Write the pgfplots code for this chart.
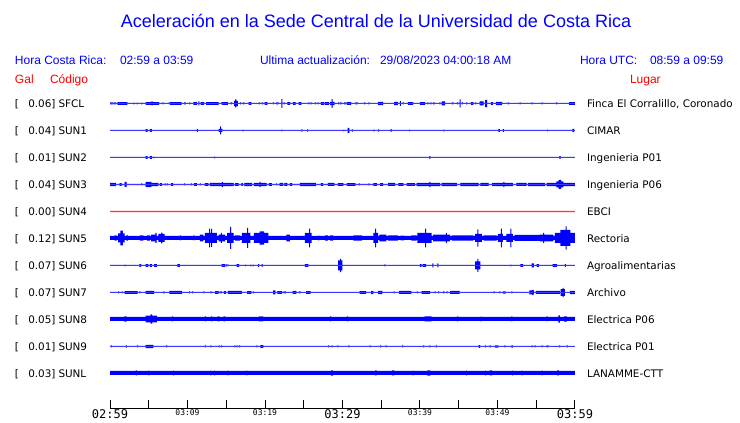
\documentclass[border=0pt]{standalone}
\usepackage{pgfplots}
\pgfplotsset{compat=1.18}
\usepackage{pgfplotstable}
\usepackage{fontspec}
\setmainfont{Liberation Sans}
\newfontfamily\dv{DejaVu Sans}
\newfontfamily\dvm{DejaVu Sans Mono}
\definecolor{tb}{RGB}{0,0,255}
\definecolor{tr}{RGB}{255,0,0}

% columns: t = minutes after 02:59, a = half height of the trace envelope (px)
\pgfplotstableread{
t a
0 1
0.4 0.5
0.5 1
0.75 0.5
0.95 1.3
2.25 0.5
3.0 0.9
3.13 0.5
3.45 0.9
3.58 0.5
4.0 0.9
4.13 0.5
4.6 1.3
5.35 2
5.5 1.3
6.35 0.5
6.75 1
6.88 0.5
7.55 1
7.68 0.5
7.75 1.3
9.25 0.5
9.55 1
9.8 0.5
10.2 1
10.33 0.5
10.75 1.3
11.2 0.5
11.4 2
11.53 0.5
11.7 1.3
12.15 0.5
12.4 1.3
14.0 0.5
14.35 1
14.48 0.5
14.5 1.3
15.2 0.5
15.55 1
15.75 0.5
16.0 2.7
16.15 4
16.3 2.7
16.5 0.5
16.8 1
16.93 0.5
17.15 1
17.35 0.5
17.9 1.3
18.25 0.5
19.2 1
19.33 0.5
19.55 1
19.75 0.5
19.95 1.3
20.3 0.5
21.0 1
21.13 0.5
21.45 1
21.75 0.5
22.1 4.3
22.23 0.5
22.4 1
22.53 0.5
22.9 1.3
23.25 0.5
23.6 1.3
23.95 0.5
24.35 1.3
24.7 0.5
25.6 1
25.73 0.5
25.9 1
26.03 0.5
26.45 1
26.58 0.5
26.8 1
26.93 0.5
27.2 1.3
27.65 0.5
27.75 1.3
28.25 0.5
28.4 1.7
28.6 4.3
28.73 1.7
29.0 0.5
29.45 1
29.58 0.5
29.7 1
29.9 0.5
30.2 1
30.48 0.5
30.55 1.3
31.1 0.5
31.65 1
31.95 0.5
32.8 1
32.93 0.5
33.35 1
33.48 0.5
34.6 1.7
35.25 0.5
36.65 1.7
37.15 0.5
37.4 2.3
37.53 0.5
37.8 1
37.93 0.5
38.45 1.3
39.1 0.5
40.0 1.3
40.65 0.5
40.95 1
41.08 0.5
41.35 1
41.48 0.5
41.7 1
41.9 0.5
42.5 1
42.63 0.5
42.8 2
43.25 0.5
44.1 1
44.3 0.5
44.75 1
44.95 0.5
45.1 4
45.23 0.5
45.4 1
45.53 0.5
45.95 1
46.08 0.5
46.55 1.3
46.9 0.5
47.1 1
47.23 0.5
47.7 2
48.2 0.5
48.4 3.7
48.65 0.5
49.15 1.3
49.4 0.5
49.8 1.7
50.6 0.5
51.35 1
51.48 0.5
52.85 1
52.98 0.5
54.4 1
54.53 0.5
55.7 1
55.83 0.5
57.55 1
57.68 0.5
59.25 1.3
60 1.3
}\sfcl

\pgfplotstableread{
t a
0 0.5
4.6 1.3
4.85 0.5
5.15 1.3
5.4 0.5
11.2 1.3
11.33 0.5
14.0 1.5
14.2 4
14.33 1.5
14.5 0.5
17.1 0.8
17.23 0.5
22.1 0.8
22.23 0.5
24.7 1.2
24.83 0.5
25.45 1.2
25.58 0.5
30.1 0.8
30.23 0.5
30.65 2.5
30.9 0.5
31.2 1.2
31.33 0.5
34.0 0.8
34.13 0.5
34.6 1.2
34.73 0.5
36.2 1.3
36.33 0.5
38.6 0.8
38.73 0.5
43.0 0.8
43.13 0.5
50.1 1.3
50.3 0.5
50.7 1.3
50.83 0.5
56.4 0.8
56.53 0.5
59.65 1.7
59.9 0.5
60 0.5
}\sunone

\pgfplotstableread{
t a
0 0.5
4.6 1.3
4.85 0.5
5.15 1.3
5.4 0.5
5.6 0.8
5.73 0.5
13.45 0.8
13.58 0.5
41.2 1.3
41.33 0.5
58.0 1.3
58.13 0.5
60 0.5
}\suntwo

\pgfplotstableread{
t a
0 1.7
0.75 0.6
1.25 1.3
1.5 0.6
1.9 2.5
2.15 0.6
4.0 1
4.13 0.6
4.6 2.6
5.35 1.7
6.25 0.6
6.45 1.3
6.7 0.6
7.05 1
7.18 0.6
7.35 1
7.48 0.6
7.9 1.3
8.15 0.6
9.55 1
9.68 0.6
10.45 1
10.58 0.6
10.85 1.3
11.2 0.6
11.6 1
11.73 0.6
12.25 1.3
12.7 0.6
12.9 1.7
14.45 2.6
14.58 1.7
15.95 0.6
16.15 1.3
16.6 0.6
16.95 1.3
17.15 0.6
17.35 1.7
18.3 0.6
18.55 1.7
19.3 2.6
19.43 1.7
20.2 0.6
20.5 1.3
20.9 0.6
21.45 1
21.58 0.6
21.9 1.5
22.35 0.6
22.5 1.5
22.9 0.6
23.2 1.3
23.5 0.6
24.5 1.7
26.55 0.6
27.2 1.3
27.5 0.6
28.1 1.5
28.95 0.6
29.4 1.3
30.1 0.6
30.55 1.3
31.65 0.6
32.1 1
32.23 0.6
33.35 1
33.48 0.6
34.0 1.3
34.45 0.6
34.85 1.3
35.25 0.6
35.9 1.5
36.8 0.6
37.2 1.3
37.85 0.6
38.3 1.3
39.35 0.6
39.55 1.7
41.2 2.6
41.33 1.7
42.6 0.6
42.8 1.7
44.75 0.6
45.2 1.7
47.55 0.6
47.8 1.5
48.85 0.6
49.3 1.7
50.75 2.6
50.88 1.7
52.0 0.6
52.45 1.5
53.75 0.6
53.95 1.7
56.1 0.6
56.35 1.7
57.6 3
57.9 4.5
58.2 3
58.5 1.7
60 1.7
}\sunthree

\pgfplotstableread{
t a
0 0.6
60 0.6
}\sunfour

\pgfplotstableread{
t a
0 2
0.6 2.7
0.85 2
1.05 4.5
1.35 7.3
1.65 4.5
1.9 2
2.15 3
2.28 2
3.85 2.7
4.3 2
4.75 2.7
5.15 2
5.3 3.3
5.85 5
6.0 2
6.25 4
6.6 5.3
6.75 4
7.05 2
9.0 2.5
9.13 2
10.75 2.5
10.88 2
11.6 3.3
12.05 2
12.25 5
12.8 9.3
12.93 5
13.05 9
13.18 5
13.8 2
14.0 3.3
14.3 5
14.43 3.3
14.85 2
15.1 5
15.5 11
15.63 5
15.95 2
16.15 2.7
16.8 2
17.0 5
17.7 10
17.83 5
18.1 2
18.55 5
19.3 6.7
19.9 5
20.45 2
22.75 3.3
23.2 2
25.15 5
25.7 9.3
25.83 5
26.0 2
26.85 2.4
26.98 2
27.75 2.7
28.1 2
28.4 2.7
28.8 2
31.4 2.7
32.5 2
34.0 5
34.2 9.3
34.33 5
34.6 2
34.75 3.3
35.65 2
35.85 2.7
37.15 2
37.5 2.4
37.95 2
38.9 2.7
39.55 2
39.65 5
40.65 9.3
40.78 5
41.5 2
41.7 3.3
43.35 5
43.48 3.3
43.9 2
44.1 2.7
46.9 2
47.1 4
47.4 8.7
47.53 4
48.0 2
48.2 2.7
49.9 2
50.05 4
50.45 9.3
50.58 4
50.7 2
51.15 4
51.65 9.3
51.78 4
52.0 2
52.2 3
55.45 3.3
55.9 5
56.03 3.3
57.2 2
57.4 5
58.1 8
58.8 11.7
58.93 8
59.4 5
60 5
}\sunfive

\pgfplotstableread{
t a
0 0.5
1.9 0.8
2.03 0.5
3.8 1.3
4.0 0.5
4.6 1.3
4.95 0.5
5.15 1.3
5.4 0.5
5.7 1.3
6.05 0.5
8.7 1.3
9.0 0.5
14.4 1.3
14.85 0.5
14.95 1
15.08 0.5
15.15 1
15.28 0.5
16.35 1.3
16.65 0.5
17.45 0.8
17.58 0.5
18.1 0.8
18.23 0.5
18.4 0.8
18.53 0.5
19.1 1.3
19.25 0.5
19.55 1.3
19.7 0.5
25.15 1.3
25.6 0.5
29.45 5
29.7 6.7
29.83 5
30.0 0.5
35.4 1
35.53 0.5
40.0 1.3
40.2 0.5
40.35 1.3
40.8 0.5
41.6 2
41.73 0.5
42.25 2
42.38 0.5
47.1 4
47.4 6.5
47.53 4
47.8 0.5
51.65 0.8
51.78 0.5
52.95 1.3
53.3 0.5
54.4 2
54.7 0.5
55.05 1.3
55.35 0.5
57.1 1.3
57.65 0.5
58.7 1.3
58.83 0.5
60 0.5
}\sunsix

\pgfplotstableread{
t a
0 0.5
1.05 1
1.18 0.5
1.5 1
1.63 0.5
1.9 1.3
3.55 0.5
3.8 1
3.93 0.5
4.6 1.5
5.7 0.5
6.9 1.2
7.03 0.5
7.65 1.5
9.3 0.5
10.2 1
10.33 0.5
10.6 1
10.73 0.5
12.05 1
12.18 0.5
12.95 1
13.1 0.5
13.55 1.3
14.0 0.5
14.15 1
14.45 0.5
14.7 1.3
14.95 0.5
15.2 1.5
17.0 0.5
17.7 1.3
18.25 0.5
18.45 1
18.58 0.5
21.05 2
21.35 0.5
21.6 1.3
22.2 0.5
22.4 1
22.7 0.5
23.55 1.5
24.05 0.5
24.4 1
24.6 0.5
25.3 1.3
25.9 0.5
32.2 1.3
33.05 0.5
33.7 1.7
34.0 0.5
34.6 1.7
35.15 0.5
36.6 1
36.73 0.5
37.3 1.5
38.9 0.5
39.6 1
39.73 0.5
40.2 1.3
41.3 0.5
41.9 1
42.03 0.5
42.35 1
42.48 0.5
43.0 1
43.13 0.5
43.45 1
43.58 0.5
43.9 1.5
45.1 0.5
49.5 1
49.63 0.5
50.25 1
50.38 0.5
50.7 1.2
51.05 0.5
51.8 1
51.93 0.5
54.1 2
54.5 2.7
54.63 2
54.7 0.5
54.95 1.5
58.05 0.5
58.15 3.3
58.4 4.7
58.53 3.3
58.7 0.5
59.35 1.7
60 1.7
}\sunseven

\pgfplotstableread{
t a
0 2
1.85 2.7
2.15 2
4.6 3.3
5.25 4.7
5.45 3.3
6.05 2
8.0 2.5
8.13 2
12.25 2.5
12.38 2
13.05 2.5
13.18 2
13.9 2.5
14.1 2
14.65 2.5
14.85 2
19.2 2.5
19.33 2
19.4 2.5
19.75 2
28.4 2.5
28.53 2
30.55 2.5
30.68 2
40.6 2.5
41.5 2
44.8 2.5
44.93 2
47.8 2.3
47.93 2
51.8 2.5
51.93 2
56.35 2.5
56.48 2
57.85 3.7
58.05 2
58.6 2.7
58.95 2
60 2
}\suneight

\pgfplotstableread{
t a
0 0.5
0.1 1
0.23 0.5
2.05 1.2
2.18 0.5
3.5 1
3.63 0.5
4.6 1.7
5.6 0.5
7.25 1
7.38 0.5
12.25 1
12.38 0.5
12.95 1
13.08 0.5
14.0 1
14.13 0.5
14.35 1
14.48 0.5
16.05 1
16.18 0.5
16.35 1
16.48 0.5
16.65 1
16.78 0.5
18.9 1
19.03 0.5
19.4 1.3
19.8 0.5
28.15 1
28.28 0.5
28.6 1
28.73 0.5
29.35 1
29.48 0.5
30.75 1
30.88 0.5
33.5 1
33.63 0.5
34.85 1
34.98 0.5
35.55 1
35.68 0.5
37.7 1
37.83 0.5
40.4 1
40.53 0.5
41.2 1
41.33 0.5
42.05 1
42.18 0.5
47.55 1.3
47.75 0.5
48.4 1
48.53 0.5
49.0 1
49.13 0.5
49.65 1.2
50.1 0.5
50.9 1
51.03 0.5
51.8 1.2
52.0 0.5
54.4 1
54.53 0.5
54.8 1
54.93 0.5
55.7 1
55.83 0.5
56.35 1
56.55 0.5
57.95 1
58.08 0.5
58.95 1
59.08 0.5
60 0.5
}\sunnine

\pgfplotstableread{
t a
0 2
3.35 2.5
3.48 2
4.95 2.4
5.08 2
8.15 2.4
8.28 2
12.95 2.4
13.08 2
13.45 2.4
13.58 2
15.15 2.4
15.28 2
17.6 2.4
17.73 2
28.5 2.7
28.8 2
34.2 2.5
34.4 2
36.4 2.5
36.7 2
39.05 2.4
39.18 2
40.95 2.7
41.35 2
45.95 2.4
46.08 2
48.4 2.4
48.53 2
49.0 2.5
49.3 2
51.9 2.4
52.03 2
53.1 2.4
53.23 2
55.7 2.4
55.83 2
57.7 2.5
57.95 2
60 2
}\sunl

\pgfplotsset{traceax/.style={anchor=south west, scale only axis, width=465pt, height=24pt,
  xmin=0, xmax=60, ymin=-12, ymax=12, hide axis, clip=false}}

% one trace: #1 table, #2 row (px from the top), #3 colour
\newcommand{\traceaxis}[3]{%
\begin{axis}[traceax, at={(110pt,{423pt-#2pt-12pt})}]
\addplot[const plot, fill=#3, draw=none] table[x=t, y=a]{#1} \closedcycle;
\addplot[const plot, fill=#3, draw=none] table[x=t, y expr=-\thisrow{a}]{#1} \closedcycle;
\end{axis}}

\begin{document}
\begin{tikzpicture}
\path (0,0) rectangle (740pt,423pt);
\traceaxis{\sfcl}{103.5}{tb}
\traceaxis{\sunone}{130.5}{tb}
\traceaxis{\suntwo}{157.5}{tb}
\traceaxis{\sunthree}{184.5}{tb}
\traceaxis{\sunfour}{211.5}{tr}
\traceaxis{\sunfive}{238}{tb}
\traceaxis{\sunsix}{265.5}{tb}
\traceaxis{\sunseven}{292.5}{tb}
\traceaxis{\suneight}{319}{tb}
\traceaxis{\sunnine}{346.5}{tb}
\traceaxis{\sunl}{373}{tb}
% time scale
\begin{axis}[at={(110pt,14pt)}, anchor=south west, scale only axis, width=465pt, height=10pt,
  xmin=0, xmax=60, ymin=0, ymax=1,
  axis x line*=bottom, axis y line=none,
  xtick={0,5,10,15,20,25,30,35,40,45,50,55,60},
  xticklabels={{\dvm\fontsize{12}{12}\selectfont 02:59},{},{\dvm\fontsize{8}{8}\selectfont 03:09},{},
    {\dvm\fontsize{8}{8}\selectfont 03:19},{},{\dvm\fontsize{12}{12}\selectfont 03:29},{},
    {\dvm\fontsize{8}{8}\selectfont 03:39},{},{\dvm\fontsize{8}{8}\selectfont 03:49},{},
    {\dvm\fontsize{12}{12}\selectfont 03:59}},
  tick align=inside, major tick length=9pt,
  tick style={black, line width=1pt},
  axis line style={black, line width=1pt, -},
  xticklabel style={anchor=north, inner sep=0pt, yshift=0pt},
  clip=false]
\addplot[draw=none] coordinates {(0,0) (60,0)};
\end{axis}
\begin{scope}[shift={(0pt,423pt)}, x=1pt, y=-1pt, inner sep=0pt, outer sep=0pt]
\node[anchor=base, text=tb, font=\fontsize{18}{20}\selectfont] at (376,28) {Aceleración en la Sede Central de la Universidad de Costa Rica};
\begin{scope}[text=tb, font=\fontsize{12}{14}\selectfont]
\node[anchor=base west] at (15,65) {Hora Costa Rica:};
\node[anchor=base west] at (120,65) {02:59 a 03:59};
\node[anchor=base west] at (260,65) {Ultima actualización:};
\node[anchor=base west] at (380,65) {29/08/2023 04:00:18 AM};
\node[anchor=base west] at (580,65) {Hora UTC:};
\node[anchor=base west] at (650,65) {08:59 a 09:59};
\end{scope}
\begin{scope}[text=tr, font=\fontsize{12}{14}\selectfont]
\node[anchor=base west] at (15,84) {Gal};
\node[anchor=base west] at (50,84) {Código};
\node[anchor=base west] at (630,84) {Lugar};
\end{scope}
\begin{scope}[font=\dv\fontsize{10.4}{12}\selectfont]
\foreach \yy/\g/\c/\l in {103.3/0.06/SFCL/{Finca El Corralillo, Coronado},
  130.3/0.04/SUN1/CIMAR, 157.3/0.01/SUN2/Ingenieria P01, 184.3/0.04/SUN3/Ingenieria P06,
  211.3/0.00/SUN4/EBCI, 238.3/0.12/SUN5/Rectoria, 265.3/0.07/SUN6/Agroalimentarias,
  292.3/0.07/SUN7/Archivo, 319.3/0.05/SUN8/Electrica P06, 346.3/0.01/SUN9/Electrica P01,
  373.3/0.03/SUNL/LANAMME-CTT}{
  \node[anchor=base west] at (15,\yy+3.8) {[};
  \node[anchor=base east] at (55.5,\yy+3.8) {\g]};
  \node[anchor=base west] at (58.5,\yy+3.8) {\c};
  \node[anchor=base west] at (587,\yy+3.8) {\l};
}
\end{scope}
\end{scope}
\end{tikzpicture}
\end{document}
